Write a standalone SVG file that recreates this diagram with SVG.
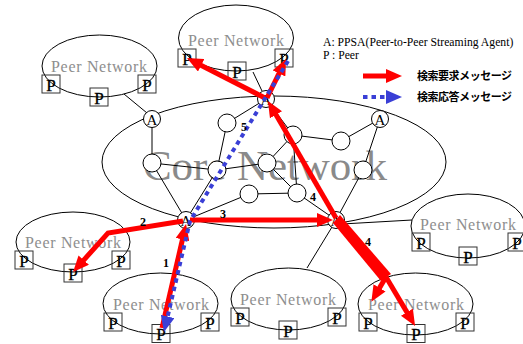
<svg xmlns="http://www.w3.org/2000/svg" width="523" height="344" viewBox="0 0 523 344">
<style>
.el{fill:none;stroke:#000;stroke-width:1}
.pn{font-family:"Liberation Serif",serif;font-size:16px;fill:#8e8e8e;text-anchor:middle}
.pb{fill:none;stroke:#333;stroke-width:1}
.pt{font-family:"Liberation Serif",serif;font-size:17px;fill:#000;text-anchor:middle;stroke:#000;stroke-width:0.3}
.ln{stroke:#000;stroke-width:1;fill:none}
.cn{fill:#fff;stroke:#000;stroke-width:1}
.at{font-family:"Liberation Serif",serif;font-size:15px;fill:#000;text-anchor:middle}
.red{stroke:#ff0000;stroke-width:5;fill:none;stroke-linejoin:miter}
.blue{stroke:#3a3fd6;stroke-width:4;fill:none;stroke-dasharray:4.5 4}
.lb{font-family:"Liberation Serif",serif;font-size:12px;font-weight:bold;fill:#000;text-anchor:middle}
.lg{font-family:"Liberation Serif",serif;font-size:11.7px;fill:#000}
.jp{font-family:"Noto Sans CJK JP",sans-serif;font-size:11px;font-weight:bold;fill:#000}
</style>
<defs>
<marker id="rh" markerUnits="userSpaceOnUse" viewBox="0 0 16 14" markerWidth="16" markerHeight="14" refX="2" refY="7" orient="auto"><path d="M0,0L16,7L0,14z" fill="#ff0000"/></marker>
<marker id="bh" markerUnits="userSpaceOnUse" viewBox="0 0 16 14" markerWidth="16" markerHeight="14" refX="2" refY="7" orient="auto"><path d="M0,0L16,7L0,14z" fill="#3a3fd6"/></marker>
</defs>

<g id="core">
<ellipse class="el" cx="274" cy="162" rx="172" ry="66"/>
<text x="143" y="180" font-family="Liberation Serif,serif" font-size="43" fill="#8a8a8a" textLength="244">Core Network</text>
</g>

<g id="pn-topleft">
<ellipse class="el" cx="99.5" cy="66" rx="57.5" ry="31"/>
<text class="pn" x="99" y="72" textLength="96">Peer Network</text>
<rect class="pb" x="42" y="75" width="18" height="18"/><text class="pt" x="51" y="91">P</text>
<rect class="pb" x="90" y="88" width="18" height="18"/><text class="pt" x="99" y="104">P</text>
<rect class="pb" x="138" y="75" width="18" height="18"/><text class="pt" x="147" y="91">P</text>
</g>
<g id="pn-top">
<ellipse class="el" cx="236" cy="38" rx="57.5" ry="33"/>
<text class="pn" x="236" y="46" textLength="96">Peer Network</text>
<rect class="pb" x="178" y="49" width="18" height="18"/><text class="pt" x="187" y="65">P</text>
<rect class="pb" x="228" y="62" width="18" height="18"/><text class="pt" x="237" y="78">P</text>
<rect class="pb" x="275" y="49" width="18" height="18"/><text class="pt" x="284" y="65">P</text>
</g>
<g id="pn-left">
<ellipse class="el" cx="73" cy="242" rx="57" ry="30"/>
<text class="pn" x="73" y="248" textLength="96">Peer Network</text>
<rect class="pb" x="15" y="251" width="18" height="18"/><text class="pt" x="24" y="267">P</text>
<rect class="pb" x="64" y="264" width="18" height="18"/><text class="pt" x="73" y="280">P</text>
<rect class="pb" x="112" y="251" width="18" height="18"/><text class="pt" x="121" y="267">P</text>
</g>
<g id="pn-bottomleft">
<ellipse class="el" cx="160.5" cy="303.5" rx="57.5" ry="30.5"/>
<text class="pn" x="161" y="310" textLength="96">Peer Network</text>
<rect class="pb" x="104" y="313" width="18" height="18"/><text class="pt" x="113" y="329">P</text>
<rect class="pb" x="152" y="324.5" width="18" height="18"/><text class="pt" x="161" y="339.5">P</text>
<rect class="pb" x="201" y="313" width="18" height="18"/><text class="pt" x="210" y="329">P</text>
</g>
<g id="pn-bottom">
<ellipse class="el" cx="288.5" cy="299" rx="57.5" ry="31"/>
<text class="pn" x="288" y="305" textLength="96">Peer Network</text>
<rect class="pb" x="231" y="308" width="18" height="18"/><text class="pt" x="240" y="324">P</text>
<rect class="pb" x="279" y="321" width="18" height="18"/><text class="pt" x="288" y="337">P</text>
<rect class="pb" x="328" y="308" width="18" height="18"/><text class="pt" x="337" y="324">P</text>
</g>
<g id="pn-bottomright">
<ellipse class="el" cx="415.5" cy="304" rx="57.5" ry="31"/>
<text class="pn" x="416" y="310" textLength="96">Peer Network</text>
<rect class="pb" x="359" y="313" width="18" height="18"/><text class="pt" x="368" y="329">P</text>
<rect class="pb" x="407" y="324.5" width="18" height="18"/><text class="pt" x="416" y="339.5">P</text>
<rect class="pb" x="456" y="313" width="18" height="18"/><text class="pt" x="465" y="329">P</text>
</g>
<g id="pn-right">
<ellipse class="el" cx="468" cy="226" rx="57" ry="32"/>
<text class="pn" x="468" y="230" textLength="96">Peer Network</text>
<rect class="pb" x="412" y="233" width="18" height="18"/><text class="pt" x="421" y="249">P</text>
<rect class="pb" x="459" y="247" width="18" height="18"/><text class="pt" x="468" y="263">P</text>
<rect class="pb" x="508" y="233" width="18" height="18"/><text class="pt" x="517" y="249">P</text>
</g>

<g id="connectors">
<path class="ln" d="M152,119L152,163M152,163L217,170M152,163L186,220M217,170L227,123M227,123L266,99M217,170L267,163M267,163L293,135M267,163L297,193M293,135L297,193M293,135L341,141M341,141L380,119M380,119L363,170M363,170L336,220M249,194L297,193M297,193L336,220M249,194L186,220M217,170L186,220M266,99L293,135"/>
<path class="ln" d="M124,94L147,113M253,72L262,91M342,224L412,220M332,227L307,268"/>
</g>

<g id="nodes">
<circle class="cn" cx="227" cy="123" r="9"/>
<circle class="cn" cx="293" cy="135" r="9"/>
<circle class="cn" cx="341" cy="141" r="9"/>
<circle class="cn" cx="152" cy="163" r="9"/>
<circle class="cn" cx="217" cy="170" r="9"/>
<circle class="cn" cx="267" cy="163" r="9"/>
<circle class="cn" cx="363" cy="170" r="9"/>
<circle class="cn" cx="249" cy="194" r="9"/>
<circle class="cn" cx="297" cy="193" r="9"/>
<g id="A1"><circle class="cn" cx="152" cy="119" r="8.5"/><text class="at" x="152" y="124.5">A</text></g>
<g id="A2"><circle class="cn" cx="266" cy="99" r="8.5"/><text class="at" x="266" y="104.5">A</text></g>
<g id="A3"><circle class="cn" cx="380" cy="119" r="8.5"/><text class="at" x="380" y="124.5">A</text></g>
<g id="A4"><circle class="cn" cx="186" cy="220" r="8.5"/><text class="at" x="186" y="225.5">A</text></g>
<g id="A5"><circle class="cn" cx="336" cy="220" r="8.5"/><text class="at" x="336" y="225.5">A</text></g>
</g>

<g id="arrows">
<path class="red" d="M162,328L182.9,237.6" marker-end="url(#rh)"/>
<path class="red" d="M183,221L108,233L82.4,261.6" marker-end="url(#rh)"/>
<path class="red" d="M190,220L319,220" marker-end="url(#rh)"/>
<path class="red" d="M336,218L275,113.1" marker-end="url(#rh)"/>
<path class="red" d="M265,98L199.4,64.4" marker-end="url(#rh)"/>
<path class="red" d="M267,98L279.9,71.6" marker-end="url(#rh)"/>
<polygon points="340,215 391,274 381,281 333,223" fill="#ff0000"/>
<path class="red" d="M386,277L378.5,289.6" stroke-width="4" marker-end="url(#rh)"/>
<path class="red" d="M386,277L407.9,313.9" stroke-width="4" marker-end="url(#rh)"/>
<path class="blue" d="M288,61L190,221L167.2,318.4" marker-end="url(#bh)"/>
</g>

<g id="labels">
<text class="lb" x="166" y="267">1</text>
<text class="lb" x="143" y="226">2</text>
<text class="lb" x="223" y="218">3</text>
<text class="lb" x="313" y="201">4</text>
<text class="lb" x="368" y="246">4</text>
<text class="lb" x="244" y="131">5</text>
</g>

<g id="legend">
<text class="lg" x="323" y="46">A: PPSA(Peer-to-Peer Streaming Agent)</text>
<text class="lg" x="323" y="59">P : Peer</text>
<path class="red" d="M363,76L388,76" marker-end="url(#rh)"/>
<path class="blue" d="M363,97L388,97" stroke-dasharray="5 3.5" marker-end="url(#bh)"/>
<text class="jp" x="417" y="80" textLength="95">検索要求メッセージ</text>
<text class="jp" x="417" y="101" textLength="95">検索応答メッセージ</text>
</g>
</svg>
